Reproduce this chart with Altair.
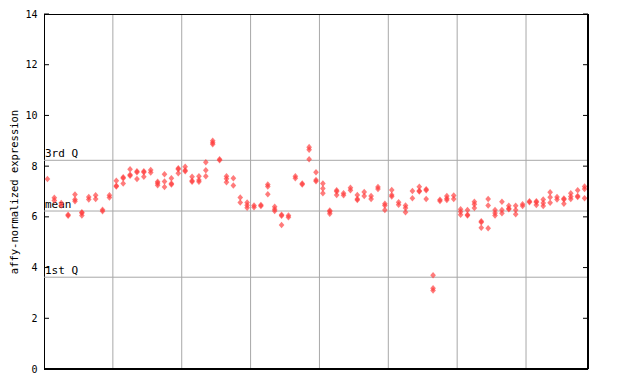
import altair as alt
import pandas as pd

# replicate expression values per sample (sample index = list position)
replicates = [
    [7.49], [6.75, 6.65], [6.55, 6.45], [6.08, 6.04], [6.88, 6.68, 6.62],
    [6.18, 6.15, 6.05], [6.78, 6.68], [6.85, 6.70], [6.28, 6.22], [6.85, 6.76],
    [7.42, 7.23, 7.20], [7.56, 7.52, 7.32], [7.88, 7.66, 7.62], [7.80, 7.76, 7.49], [7.80, 7.76, 7.58],
    [7.85, 7.75], [7.38, 7.33, 7.25], [7.68, 7.39, 7.18], [7.52, 7.32, 7.28], [7.92, 7.88, 7.72],
    [7.98, 7.84, 7.80], [7.58, 7.42, 7.38], [7.60, 7.45, 7.38], [8.15, 7.84, 7.60], [9.00, 8.92, 8.86],
    [8.27, 8.23], [7.60, 7.50, 7.36], [7.52, 7.24], [6.76, 6.57], [6.57, 6.46, 6.36],
    [6.45, 6.38], [6.47, 6.43], [7.28, 7.20, 6.89], [6.40, 6.30, 6.23], [6.08, 6.04, 5.68],
    [6.05, 5.98], [7.60, 7.52], [7.32, 7.28], [8.75, 8.65, 8.27], [7.76, 7.45, 7.40],
    [7.32, 7.12, 6.93], [6.25, 6.20, 6.12], [7.05, 7.00, 6.86], [6.93, 6.85], [7.15, 7.05],
    [6.86, 6.70, 6.66], [6.98, 6.82], [6.82, 6.70], [7.18, 7.10], [6.52, 6.45, 6.27],
    [7.06, 6.86, 6.80], [6.58, 6.48], [6.45, 6.35, 6.18], [7.02, 6.73], [7.19, 7.03, 7.00],
    [7.09, 7.05, 6.70], [3.70, 3.18, 3.10], [6.67, 6.63], [6.82, 6.72, 6.66], [6.84, 6.70],
    [6.30, 6.20, 6.08], [6.27, 6.08, 6.05], [6.60, 6.50, 6.35], [5.83, 5.79, 5.57], [6.70, 6.45, 5.55],
    [6.27, 6.15, 6.05], [6.60, 6.27, 6.14], [6.44, 6.33, 6.30], [6.44, 6.27, 6.10], [6.50, 6.43],
    [6.62, 6.58], [6.62, 6.58, 6.47], [6.68, 6.55, 6.43], [6.97, 6.77, 6.56], [6.78, 6.68],
    [6.72, 6.68, 6.52], [6.93, 6.80, 6.70], [7.05, 6.82, 6.78], [7.20, 7.10, 6.73],
]

ref_labels = ["3rd Q", "mean", "1st Q"]
ref_values = [8.23, 6.23, 3.62]
group_breaks = [10, 20, 30, 40, 50, 60, 70]
y_ticks = [0, 2, 4, 6, 8, 10, 12, 14]

n_samples = len(replicates)
rows = []
for i, vals in enumerate(replicates):
    for v in vals:
        rows.append({"pos": i + 0.5, "value": v})
df = pd.DataFrame(rows)
ref_df = pd.DataFrame({"label": ref_labels, "value": ref_values})
grid_df = pd.DataFrame({"pos": group_breaks})
tick_df = pd.DataFrame({"value": y_ticks})

W, H = 544, 355
x_scale = alt.Scale(domain=[0, n_samples], nice=False, zero=False)
y_scale = alt.Scale(domain=[0, 14], nice=False)
FONT = "DejaVu Sans Mono"

y_enc = alt.Y("value:Q", scale=y_scale, title="affy-normalized expression", axis=alt.Axis(
    values=y_ticks, ticks=False,
    labelPadding=7, labelFont=FONT, labelFontSize=10, labelColor="black",
    titleFont=FONT, titleFontSize=10.5, titleFontWeight="normal", titleColor="black",
    titlePadding=5, grid=False, domain=True, domainColor="black", domainWidth=1,
    labelFlush=False,
))
x_enc = alt.X("pos:Q", scale=x_scale, axis=None)

vgrid = alt.Chart(grid_df).mark_rule(color="#a8a8a8", strokeWidth=1).encode(x=x_enc)
hlines = alt.Chart(ref_df).mark_rule(color="#a8a8a8", strokeWidth=1).encode(y=y_enc)
ref_text = alt.Chart(ref_df).mark_text(
    align="left", baseline="bottom", dx=1, dy=-1, font=FONT, fontSize=11, color="black"
).encode(x=alt.value(0), y=y_enc, text="label:N")

left_ticks = alt.Chart(tick_df).mark_rule(color="black").encode(
    y=y_enc, x=alt.value(0), x2=alt.value(5)
)
right_ticks = alt.Chart(tick_df).mark_rule(color="black").encode(
    y=y_enc, x=alt.value(W - 5), x2=alt.value(W)
)

points = alt.Chart(df).mark_point(
    shape="M0,-1.15L1,0L0,1.15L-1,0Z", filled=True, color="#ff3c3c",
    opacity=0.68, size=32, strokeWidth=0
).encode(x=x_enc, y=y_enc)

one = tick_df.head(1)
bottom_line = alt.Chart(one).mark_rule(color="black", strokeWidth=2).encode(
    y=alt.value(H), x=alt.value(0), x2=alt.value(W)
)
top_line = alt.Chart(one).mark_rule(color="black", strokeWidth=1).encode(
    y=alt.value(0.5), x=alt.value(0), x2=alt.value(W)
)
right_line = alt.Chart(one).mark_rule(color="black", strokeWidth=2).encode(
    x=alt.value(W), y=alt.value(0), y2=alt.value(H)
)

chart = alt.layer(vgrid, hlines, ref_text, points, left_ticks, right_ticks,
                  bottom_line, top_line, right_line).properties(
    width=W, height=H,
    autosize=alt.AutoSizeParams(type="none"),
    padding={"left": 36, "top": 6, "right": 10, "bottom": 7},
).configure_view(stroke="black", strokeWidth=1).configure(background="white")

chart.save("out.html", embed_options={"renderer": "svg", "actions": False})
